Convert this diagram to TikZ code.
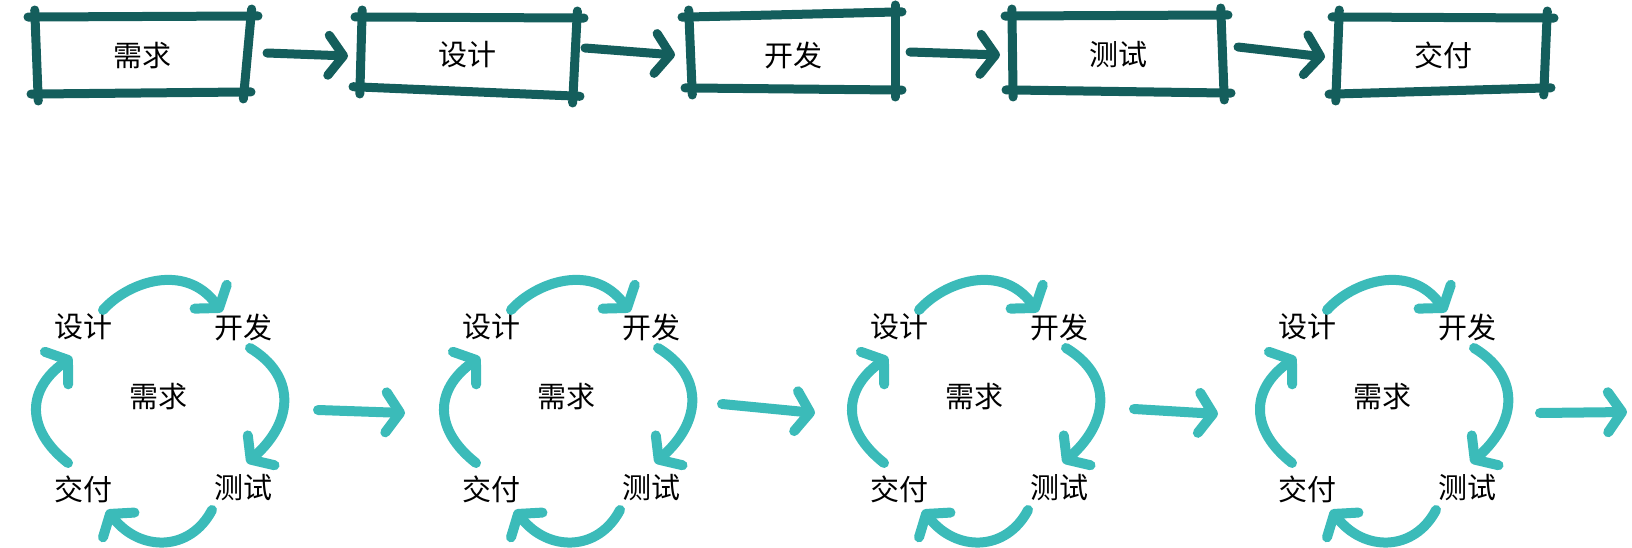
\documentclass[tikz,border=0pt]{standalone}
\usepackage{fontspec}
\newfontfamily\cjk{Noto Sans CJK SC}
\usetikzlibrary{arrows.meta}
\definecolor{darkteal}{HTML}{145E5C}
\definecolor{lightteal}{HTML}{3BBBB9}
\newcommand\handbox[5]{%
  \coordinate (#1-tl) at #2; \coordinate (#1-tr) at #3;
  \coordinate (#1-br) at #4; \coordinate (#1-bl) at #5;
  \draw[frame] (#1-tl) -- (#1-tr);
  \draw[frame] (#1-tr) -- (#1-br);
  \draw[frame] (#1-br) -- (#1-bl);
  \draw[frame] (#1-bl) -- (#1-tl);}
\begin{document}
\begin{tikzpicture}[x=1pt,y=-1pt,
  frame/.style={draw=darkteal, line width=9pt, line cap=round, shorten <=-7pt, shorten >=-7pt},
  lbl/.style={font=\cjk\fontsize{29}{34}\selectfont, text=black, inner sep=0pt},
  flow/.style={draw=darkteal, line width=9pt, line cap=round, -{Straight Barb[length=15pt,width=40pt,round]}},
  cyc/.style={draw=lightteal, line width=10pt, line cap=round, -{Straight Barb[length=14pt,width=40pt,round]}}]
\useasboundingbox (0,0) rectangle (1632,548);

% top row
\handbox{b1}{(35,17)}{(251,16)}{(244,92)}{(38,94)}
\handbox{b2}{(362,17)}{(577,18)}{(573,96)}{(360,87)}
\handbox{b3}{(689,17)}{(895,12)}{(895,90)}{(692,88)}
\handbox{b4}{(1012,16)}{(1221,15)}{(1224,93)}{(1013,90)}
\handbox{b5}{(1339,17)}{(1547,18)}{(1544,88)}{(1336,94)}

\node[lbl] (t1) at (142,56) {需求};
\node[lbl] (t2) at (467,55) {设计};
\node[lbl] (t3) at (793,55) {开发};
\node[lbl] (t4) at (1118,55) {测试};
\node[lbl] (t5) at (1443,55) {交付};

\coordinate (f1s) at (267,53);  \coordinate (f1e) at (348,56);
\coordinate (f2s) at (585,48);  \coordinate (f2e) at (675,55);
\coordinate (f3s) at (910,52);  \coordinate (f3e) at (1000,55);
\coordinate (f4s) at (1238,47); \coordinate (f4e) at (1325,57);
\draw[flow] (f1s) -- (f1e);
\draw[flow] (f2s) -- (f2e);
\draw[flow] (f3s) -- (f3e);
\draw[flow] (f4s) -- (f4e);

% bottom row: cycles
\foreach \i/\ox in {1/0,2/408,3/816,4/1224}{
  \begin{scope}[shift={(\ox,0)}]
    \node[lbl] (c\i-sj) at (83,327) {设计};
    \node[lbl] (c\i-kf) at (243,327) {开发};
    \node[lbl] (c\i-xq) at (158,397) {需求};
    \node[lbl] (c\i-jf) at (83,489) {交付};
    \node[lbl] (c\i-cs) at (243,488) {测试};
    \coordinate (c\i-ts) at (103,310); \coordinate (c\i-te) at (222,312);
    \coordinate (c\i-rs) at (250,348); \coordinate (c\i-re) at (247,463);
    \coordinate (c\i-bs) at (212,510); \coordinate (c\i-be) at (107,510);
    \coordinate (c\i-ls) at (68,463);  \coordinate (c\i-le) at (72,357);
    \draw[cyc] (c\i-ts) .. controls (128,282) and (185,262) .. (c\i-te);
    \draw[cyc] (c\i-rs) .. controls (295,375) and (295,420) .. (c\i-re);
    \draw[cyc] (c\i-bs) .. controls (190,552) and (140,552) .. (c\i-be);
    \draw[cyc] (c\i-ls) .. controls (26,430) and (26,390) .. (c\i-le);
  \end{scope}
}

\coordinate (g1s) at (318,410);  \coordinate (g1e) at (405,413);
\coordinate (g2s) at (722,404);  \coordinate (g2e) at (815,413);
\coordinate (g3s) at (1134,409); \coordinate (g3e) at (1218,414);
\coordinate (g4s) at (1540,413); \coordinate (g4e) at (1627,412);
\draw[cyc] (g1s) -- (g1e);
\draw[cyc] (g2s) -- (g2e);
\draw[cyc] (g3s) -- (g3e);
\draw[cyc] (g4s) -- (g4e);
\end{tikzpicture}
\end{document}
